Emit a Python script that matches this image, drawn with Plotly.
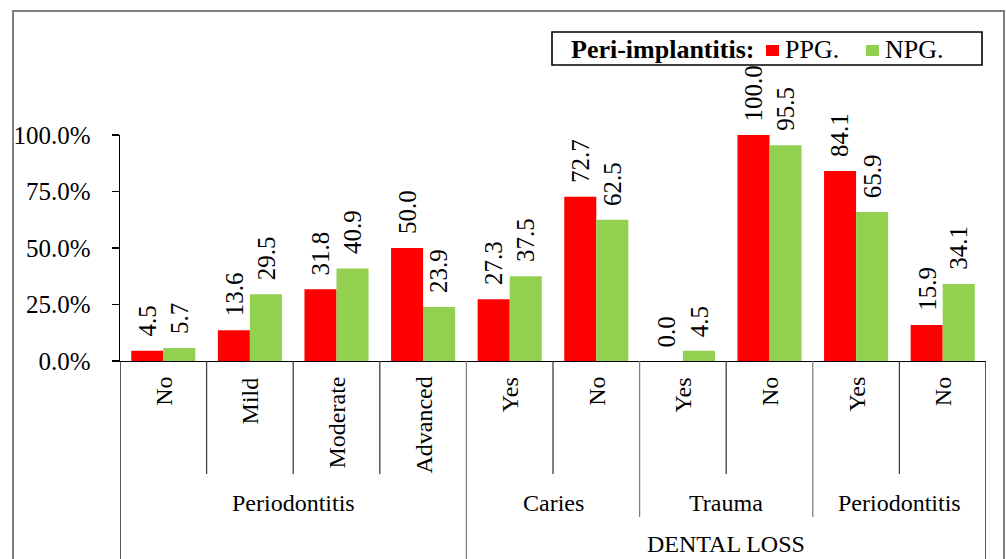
import plotly.graph_objects as go

# ---- data ----
inner_labels = ["No", "Mild", "Moderate", "Advanced", "Yes", "No", "Yes", "No", "Yes", "No"]
middle_labels = ["Periodontitis"] * 4 + ["Caries"] * 2 + ["Trauma"] * 2 + ["Periodontitis"] * 2
outer_labels = [""] * 4 + ["DENTAL LOSS"] * 6
ppg = [4.5, 13.6, 31.8, 50.0, 27.3, 72.7, 0.0, 100.0, 84.1, 15.9]
npg = [5.7, 29.5, 40.9, 23.9, 37.5, 62.5, 4.5, 95.5, 65.9, 34.1]
y_ticks = [0, 25, 50, 75, 100]
series_names = ["PPG.", "NPG."]
legend_title = "Peri-implantitis:"

# ---- style ----
FONT = "Liberation Serif"
FS_CAT = 24
FS_VAL = 25
FS_LEG = 26
RED = "#FF0000"
GREEN = "#92D050"
W, H = 1006, 559
ML, MT = 120, 135
PW, PH = 866, 226
MR, MB = W - ML - PW, H - MT - PH
BARGAP = 0.26
HALF = (1 - BARGAP) / 4  # offset of each bar center from category center


def py(pix):  # page pixel y -> paper y
    return (MT + PH - pix) / PH


def px(pix):  # page pixel x -> paper x
    return (pix - ML) / PW


n = len(inner_labels)
xs = list(range(n))

fig = go.Figure()
fig.add_trace(go.Bar(x=xs, y=ppg, name=series_names[0], showlegend=False,
                     marker=dict(color=RED, line=dict(width=0))))
fig.add_trace(go.Bar(x=xs, y=npg, name=series_names[1], showlegend=False,
                     marker=dict(color=GREEN, line=dict(width=0))))

annotations = []
# data labels
for vals, sgn in ((ppg, -1), (npg, 1)):
    for i, v in enumerate(vals):
        annotations.append(dict(
            x=i + sgn * HALF, y=v, xref="x", yref="y", text=f"{v:.1f}",
            textangle=-90, showarrow=False, yanchor="bottom", xanchor="center",
            yshift=12, font=dict(family=FONT, size=FS_VAL, color="black")))

# inner category labels
for i, lab in enumerate(inner_labels):
    annotations.append(dict(
        x=i, y=py(375), xref="x", yref="paper", text=lab, textangle=-90,
        showarrow=False, yanchor="top", xanchor="center",
        font=dict(family=FONT, size=FS_CAT, color="black")))


def spans(labels):
    out = []
    start = 0
    for i in range(1, n + 1):
        if i == n or labels[i] != labels[start]:
            out.append((start, i - 1, labels[start]))
            start = i
    return out


for s, e, lab in spans(middle_labels):
    annotations.append(dict(
        x=(s + e) / 2, y=py(503), xref="x", yref="paper", text=lab,
        showarrow=False, yanchor="middle", xanchor="center",
        font=dict(family=FONT, size=FS_CAT, color="black")))
for s, e, lab in spans(outer_labels):
    if lab:
        annotations.append(dict(
            x=(s + e) / 2, y=py(544), xref="x", yref="paper", text=lab,
            showarrow=False, yanchor="middle", xanchor="center",
            font=dict(family=FONT, size=FS_CAT, color="black")))

# separators
shapes = []
for i in range(n + 1):
    b = i - 0.5
    if i == 0 or i == n:
        depth, col = 600, "black"
    elif outer_labels[i] != outer_labels[i - 1]:
        depth, col = 600, "#808080"
    elif middle_labels[i] != middle_labels[i - 1]:
        depth, col = 517, "#808080"
    else:
        depth, col = 474, "#404040"
    shapes.append(dict(type="line", xref="x", yref="paper", x0=b, x1=b,
                       y0=0, y1=py(depth), line=dict(color=col, width=1.3)))

# outer border
shapes.append(dict(type="rect", xref="paper", yref="paper",
                   x0=px(13), x1=px(1004), y0=py(600), y1=py(11),
                   line=dict(color="#7f7f7f", width=2), layer="below"))

# legend (box, swatches, texts)
shapes.append(dict(type="rect", xref="paper", yref="paper",
                   x0=px(552), x1=px(982), y0=py(65), y1=py(32),
                   line=dict(color="black", width=1.6), fillcolor="white"))
LEG_Y = 49
annotations.append(dict(x=px(569), y=py(LEG_Y), xref="paper", yref="paper",
                        text=f"<b>{legend_title}</b>", showarrow=False,
                        xanchor="left", yanchor="middle",
                        font=dict(family=FONT, size=FS_LEG, color="black")))
for (sx0, sx1, tx), name, col in zip(((766, 779, 783), (866, 879, 883)), series_names, (RED, GREEN)):
    shapes.append(dict(type="rect", xref="paper", yref="paper",
                       x0=px(sx0), x1=px(sx1), y0=py(56), y1=py(45),
                       line=dict(width=0), fillcolor=col))
    annotations.append(dict(x=px(tx), y=py(LEG_Y), xref="paper", yref="paper",
                            text=name, showarrow=False, xanchor="left", yanchor="middle",
                            font=dict(family=FONT, size=FS_LEG, color="black")))

fig.update_layout(
    width=W, height=H,
    margin=dict(l=ML, r=MR, t=MT, b=MB, pad=0),
    paper_bgcolor="white", plot_bgcolor="white",
    barmode="group", bargap=BARGAP, bargroupgap=0,
    font=dict(family=FONT, size=FS_VAL, color="black"),
    showlegend=False,
    xaxis=dict(range=[-0.5, n - 0.5], showticklabels=False, ticks="",
               showline=True, linecolor="black", linewidth=1.3, showgrid=False, zeroline=False,
               fixedrange=True),
    yaxis=dict(range=[0, 100], tickvals=y_ticks, ticktext=[f"{t:.1f}%" for t in y_ticks],
               ticks="outside", ticklen=7, tickcolor="black", tickwidth=1.3,
               showline=True, linecolor="black", linewidth=1.3, showgrid=False, zeroline=False,
               ticklabelstandoff=16, tickfont=dict(family=FONT, size=FS_VAL, color="black")),
    annotations=annotations, shapes=shapes,
)

fig.write_html(
    "out.html",
    config={"displayModeBar": False, "staticPlot": True},
    post_script="document.body.style.margin='0';document.body.style.overflow='hidden';",
)
